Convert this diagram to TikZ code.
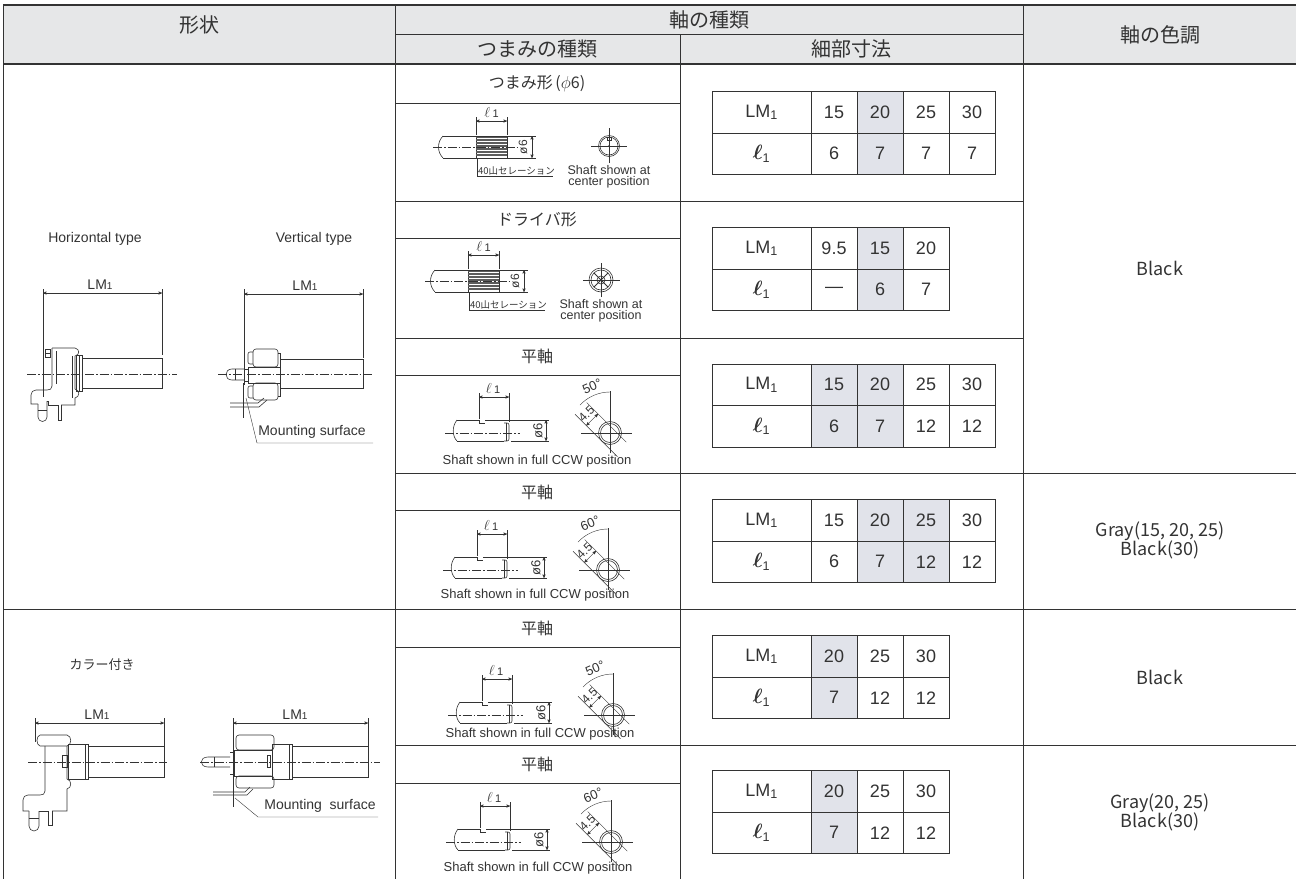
\documentclass[tikz,border=0pt]{standalone}
\usepackage{amsmath}
\usepackage{fontspec}
\setmainfont{Liberation Sans}
\newfontfamily\jp{Noto Sans CJK JP}
\usetikzlibrary{arrows}
\definecolor{ink}{HTML}{333333}
\definecolor{headgray}{HTML}{E6E7E8}
\definecolor{markgray}{HTML}{E1E3EA}
\newcommand\fsz[1]{\fontsize{#1}{#1}\selectfont}
\newcommand\lmone{LM{\fsz{10}1}}

% table of sizes: #1 name, #2 centre y, #3 list lm/l/fill
\newcommand\sizetab[3]{%
\node (#1lm) [cell, minimum width=99pt] at (761.5,#2-20.75) {LM\textsubscript{1}};
\node (#1el) [cell, minimum width=99pt] at (761.5,#2+20.75) {{\fsz{20}$\boldsymbol{\ell}$}\textsubscript{1}};
\foreach \a/\b/\m [count=\i] in {#3} {
  \node (#1a\i) [cell, fill=\m] at (788+46*\i,#2-20.75) {\a};
  \node (#1b\i) [cell, fill=\m] at (788+46*\i,#2+20.75) {\b};
}}

% serrated shaft: #1 name, #2 x, #3 y, #4 end view
\newcommand\knurlshaft[4]{%
\begin{scope}[shift={(#2,#3)}]
\draw[partline] (-33,-11) .. controls (-39,-5) and (-39,5) .. (-33,11);
\draw[partline] (-33,-11) -- (0,-11) (-33,11) -- (0,11);
\draw[partline] (0,-11) rectangle (31,11);
\foreach \k in {-9.5,-8,...,9.5} \draw[hatchline] (0,\k) -- (31,\k);
\draw[axisline] (-43,0) -- (41,0);
\draw[dimline] (0,-12) -- (0,-30) (31,-12) -- (31,-30);
\draw[dimline,<->] (0,-26) -- (31,-26);
\node (#1l) at (15.5,-35) {\fsz{14}$\ell$\,\fsz{11}1};
\draw[dimline] (32,-11) -- (60,-11) (32,11) -- (60,11);
\draw[dimline,<->] (56,-11) -- (56,11);
\node (#1d) [rotate=90] at (47,0) {\fsz{12}ø6};
\draw[dimline] (1,11) -- (1,29) -- (77,29);
\node (#1s) [anchor=south west] at (2,28) {\jp\fsz{9.5}40山セレーション};
\begin{scope}[shift={(133,-1)}, y=1pt]
#4
\end{scope}
\node (#1c) [align=center, font=\fontsize{12.5}{10.5}\selectfont] at (133,30) {Shaft shown at\\center position};
\end{scope}}

% flat shaft: #1 name, #2 x, #3 y, #4 angle, #5 caption y
\newcommand\flatshaft[5]{%
\begin{scope}[shift={(#2,#3)}]
\draw[partline] (-22,-13) .. controls (-27,-7) and (-27,3) .. (-22,8);
\draw[partline] (-22,-13) -- (0,-13) -- (0,-10) -- (6,-10);
\draw[partline] (-22,8) -- (25,8);
\draw[partline, rounded corners=2pt] (25,-10) -- (30,-10) -- (30,8) -- (25,8);
\draw[partline] (27,-10) -- (27,8);
\draw[dimline] (6,-13) -- (70,-13) (32,8) -- (70,8);
\draw[axisline] (-34,0) -- (41,0);
\draw[dimline] (0,-14) -- (0,-40) (30,-11) -- (30,-40);
\draw[dimline,<->] (0,-36) -- (30,-36);
\node (#1l) at (14,-45) {\fsz{14}$\ell$\,\fsz{11}1};
\draw[dimline,<->] (67,-13) -- (67,8);
\node (#1d) [rotate=90] at (59,-2.5) {\fsz{13}ø6};
\node (#1c) at (58,#5) {\fsz{13}Shaft shown in full CCW position};
\begin{scope}[shift={(131,0)}, y=1pt]
\draw[partline] (0,0) circle (11.5);
\draw[partline] (0,0) circle (9.5);
\draw[dimline] (-29,0) -- (22,0) (0,-20) -- (0,42);
\draw[dimline] (90:41) arc[start angle=90, end angle=137, radius=41];
\node (#1a) [rotate=23] at (111:50) {\fsz{13}#4°};
\draw[dimline] (225:11.5) ++(-45:22) -- ++(135:60);
\draw[dimline] (45:5) ++(-45:18) -- ++(135:56);
\draw[dimline,<->] (225:11.5) ++(135:22) -- ++(45:16.5);
\path (225:3.25) ++(135:30) node (#1w) [rotate=45] {\fsz{12}4.5};
\end{scope}
\end{scope}}

\begin{document}
\begin{tikzpicture}[x=1pt,y=-1pt,color=ink,>=stealth']
\tikzstyle{every node}=[inner sep=0pt, outer sep=0pt]
\tikzstyle{gridline}=[line width=1pt]
\tikzstyle{heavyline}=[line width=2.6pt]
\tikzstyle{partline}=[line width=0.6pt]
\tikzstyle{dimline}=[line width=0.4pt]
\tikzstyle{hatchline}=[line width=0.4pt, color=ink!80]
\tikzstyle{axisline}=[line width=0.4pt, dash pattern=on 9pt off 2pt on 1.5pt off 2pt]
\tikzstyle{cell}=[draw, line width=1pt, minimum width=46pt, minimum height=41.5pt, font=\fsz{18}]
\tikzstyle{head}=[font=\jp\fsz{20}]
\tikzstyle{kind}=[font=\jp\fsz{16}]
\tikzstyle{colortext}=[font=\jp\fontsize{18}{19}\selectfont, align=center]
\tikzstyle{caption}=[font=\fsz{14}]
\useasboundingbox (0,0) rectangle (1299,879);

% grid
\fill[headgray] (3,5) rectangle (1296,64);
\draw[gridline] (3,5) -- (3,879) (395,5) -- (395,879) (680,34) -- (680,879) (1023,5) -- (1023,879);
\draw[gridline] (395,34) -- (1023,34);
\foreach \y in {201,338} \draw[gridline] (395,\y) -- (1023,\y);
\foreach \y in {473,745} \draw[gridline] (395,\y) -- (1296,\y);
\draw[gridline] (3,609) -- (1296,609);
\foreach \y in {103,238,375,510,647,783} \draw[gridline] (395,\y) -- (680,\y);
\draw[heavyline] (3,5) -- (1296,5);
\draw[heavyline] (3,64) -- (1296,64);

% headings
\node (shape) [head] at (199,25) {形状};
\node (shaft) [head] at (709,20) {軸の種類};
\node (knob) [head] at (537,49) {つまみの種類};
\node (detail) [head] at (851,49) {細部寸法};
\node (tone) [head] at (1160,35) {軸の色調};

\node (k1) [kind] at (537,84) {つまみ形\,($\phi$6)};
\node (k2) [kind] at (537,220) {ドライバ形};
\node (k3) [kind] at (537,356) {平軸};
\node (k4) [kind] at (537,492) {平軸};
\node (k5) [kind] at (537,628) {平軸};
\node (k6) [kind] at (537,764) {平軸};

% size tables
\sizetab{ta}{133}{15/6/white,20/7/markgray,25/7/white,30/7/white}
\sizetab{tb}{269}{9.5/—/white,15/6/markgray,20/7/white}
\sizetab{tc}{405.5}{15/6/markgray,20/7/markgray,25/12/white,30/12/white}
\sizetab{td}{541}{15/6/white,20/7/markgray,25/12/markgray,30/12/white}
\sizetab{te}{677}{20/7/markgray,25/12/white,30/12/white}
\sizetab{tf}{812}{20/7/markgray,25/12/white,30/12/white}

% colours
\node (c1) [colortext] at (1160,268) {Black};
\node (c2) [colortext] at (1160,540) {Gray(15, 20, 25)\\Black(30)};
\node (c3) [colortext] at (1160,677) {Black};
\node (c4) [colortext] at (1160,812) {Gray(20, 25)\\Black(30)};

% shafts
\knurlshaft{na}{476}{147}{%
\draw[partline] (0,0) circle (10.5); \draw[partline] (0,0) circle (9);
\draw[dimline] (-18,0) -- (18,0) (0,-17) -- (0,18);
\draw[partline] (-2,9.1) rectangle (2,5.8); \fill (0,0) circle (0.8);}
\knurlshaft{nb}{468}{281}{%
\draw[partline] (0,0) circle (12); \draw[partline] (0,0) circle (10);
\draw[dimline] (-18,0) -- (19,0) (0,-17) -- (0,17);
\draw[line width=1pt] (45:10) -- (225:10) (135:10) -- (-45:10);
\draw[partline] (0,0) circle (4);}
\flatshaft{fa}{479}{433}{50}{28}
\flatshaft{fb}{477}{570}{60}{25}
\flatshaft{fc}{482}{715}{50}{19}
\flatshaft{fd}{480}{842}{60}{26}

% horizontal type
\node (ht) [caption] at (95,239) {Horizontal type};
\node (hl) [caption] at (100,285) {\lmone};
\draw[dimline] (43,289) -- (43,397) (162,289) -- (162,355);
\draw[dimline,<->] (43,293) -- (162,293);
\draw[partline] (82,358) rectangle (162,388);
\draw[partline] (76,355) rectangle (82,391);
\draw[partline] (79,355) -- (79,391);
\draw[partline] (52,348) -- (75,348) .. controls (80,349) and (80,355) .. (75,356) -- (75,389)
  .. controls (80,390) and (80,397) .. (75,398) -- (75,405) -- (61,405);
\draw[partline] (58,405) -- (48,405) -- (48,401) -- (47,401);
\draw[partline] (52,348) -- (52,386) .. controls (52,389) and (50,390) .. (47,390) -- (36,390)
  .. controls (33,390) and (31,392) .. (31,395) -- (31,404) -- (38,404);
\draw[partline] (56,351) -- (56,384) (72,356) -- (72,398);
\draw[partline] (45,349) rectangle (50,357);
\draw[partline] (45,353) -- (50,353);
\draw[partline] (38,404) -- (38,417) arc[start angle=180, end angle=0, radius=4.5] -- (47,401);
\draw[partline] (38,410) -- (47,410);
\draw[partline] (58,405) -- (58,420) -- (61,420) -- (61,405);
\draw[axisline] (27,374) -- (177,374);

% vertical type
\node (vt) [caption] at (314,239) {Vertical type};
\node (vl) [caption] at (305,286) {\lmone};
\draw[dimline] (244,289) -- (244,385) (363,289) -- (363,358);
\draw[dimline,<->] (244,294) -- (363,294);
\draw[partline] (280,359) rectangle (363,388);
\draw[partline, rounded corners=3pt] (253,349) rectangle (278,367);
\draw[partline, rounded corners=3pt] (253,383) rectangle (278,400);
\draw[partline] (248,367) rectangle (280,383);
\draw[partline, rounded corners=2pt] (253,352) -- (248,352) -- (248,364) -- (253,364);
\draw[partline, rounded corners=2pt] (253,386) -- (248,386) -- (248,398) -- (253,398);
\draw[partline] (278,353) -- (280,353) -- (280,396) -- (278,396);
\draw[partline] (248,369) -- (244,369) (248,381) -- (244,381);
\draw[partline] (244,369) -- (232,369) .. controls (224,369) and (224,380) .. (232,380) -- (244,380);
\draw[partline] (235,369) -- (235,380);
\draw[partline] (230,403) -- (258,403) -- (264,398);
\draw[partline] (230,407) -- (259,407) -- (267,400);
\draw[dimline] (243,383) -- (243,418);
\draw[axisline] (218,374) -- (372,374);
\node (ms1) [caption] at (312,432) {Mounting surface};
\draw[dimline] (246,398) -- (257,443) -- (373,443);

% with collar
\node (col) [font=\jp\fsz{13}] at (102,665) {カラー付き};
\node (hl2) [caption] at (97,715) {\lmone};
\draw[dimline] (35,718) -- (35,742) (164,718) -- (164,746);
\draw[dimline,<->] (35,723) -- (164,723);
\draw[partline] (88,746) rectangle (164,777);
\draw[partline] (68,744) rectangle (88,779);
\draw[partline] (85,744) -- (85,779);
\draw[partline] (40,735) -- (67,735) .. controls (72,736) and (72,745) .. (67,746) -- (40,746)
  .. controls (36,745) and (36,736) .. (40,735);
\draw[partline] (45,746) -- (45,791) .. controls (45,794) and (43,795) .. (40,795) -- (28,795)
  .. controls (25,795) and (23,797) .. (23,800) -- (23,811) -- (29,811);
\draw[partline] (67,746) -- (67,779) .. controls (72,780) and (72,788) .. (67,789) -- (67,811) -- (52,811);
\draw[partline] (39,811) -- (48,811);
\draw[partline] (62,755) rectangle (67,767);
\draw[partline] (29,811) -- (29,826) arc[start angle=180, end angle=0, radius=5] -- (39,811);
\draw[partline] (29,818) -- (39,818);
\draw[partline] (48,811) -- (48,825) -- (52,825) -- (52,811);
\draw[axisline] (28,762) -- (167,762);

\node (vl2) [caption] at (295,715) {\lmone};
\draw[dimline] (233,718) -- (233,807) (368,718) -- (368,746);
\draw[dimline,<->] (233,723) -- (368,723);
\draw[partline] (292,746) rectangle (368,777);
\draw[partline] (272,744) rectangle (292,779);
\draw[partline] (289,744) -- (289,779);
\draw[partline, rounded corners=3pt] (236,735) rectangle (274,750);
\draw[partline, rounded corners=3pt] (236,776) rectangle (274,788);
\draw[partline] (234,750) rectangle (272,776);
\draw[partline] (234,752) -- (230,752) (234,774) -- (230,774);
\draw[partline] (267,755) rectangle (270,767);
\draw[partline] (230,757) -- (208,757) .. controls (199,757) and (199,767) .. (208,767) -- (230,767);
\draw[partline] (214,757) -- (214,767);
\draw[partline] (213,792) -- (245,792) -- (250,787);
\draw[partline] (213,795) -- (247,795) -- (253,789);
\draw[axisline] (200,762) -- (380,762);
\node (ms2) [caption] at (320,806) {Mounting\ \ surface};
\draw[dimline] (235,798) -- (258,817) -- (378,817);
\end{tikzpicture}
\end{document}
